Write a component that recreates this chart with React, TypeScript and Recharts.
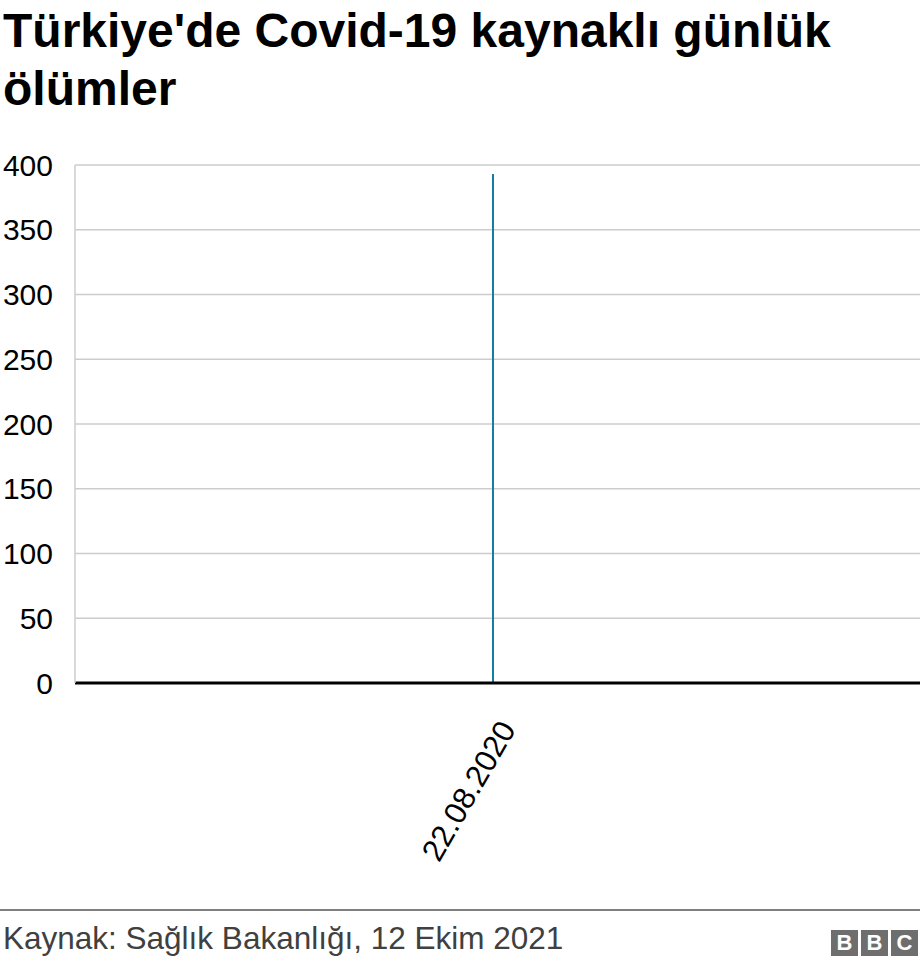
import React from 'react';
import { BarChart, Bar, XAxis, YAxis, CartesianGrid } from 'recharts';

const dates = ['22.08.2020'];
const deaths = [393];
const yTicks = [0, 50, 100, 150, 200, 250, 300, 350, 400];

const data = dates.map((d, i) => ({ date: d, value: deaths[i] }));

const FONT = '"Liberation Sans", Arial, Helvetica, sans-serif';

const DateTick = (props: any) => {
  const { x, y, payload } = props;
  return (
    <g transform={`translate(${x + 24},${y + 38})`}>
      <text
        transform="rotate(-60)"
        textAnchor="end"
        fontSize={31}
        fontFamily={FONT}
        fill="#000"
      >
        {payload.value}
      </text>
    </g>
  );
};

const BbcLogo = () => (
  <div style={{ position: 'absolute', right: 2, top: 930, display: 'flex', gap: 3 }}>
    {['B', 'B', 'C'].map((l, i) => (
      <div
        key={i}
        style={{
          width: 27,
          height: 26,
          background: '#6e6e6e',
          color: '#fff',
          fontFamily: FONT,
          fontWeight: 700,
          fontSize: 22,
          lineHeight: '26px',
          textAlign: 'center',
        }}
      >
        {l}
      </div>
    ))}
  </div>
);

export default function App() {
  return (
    <div style={{ position: 'absolute', left: 0, top: 0, width: 920, height: 966, background: '#fff', fontFamily: FONT }}>
      <div
        style={{
          position: 'absolute',
          left: 3,
          top: 2,
          width: 900,
          fontSize: 48,
          fontWeight: 700,
          lineHeight: '58px',
          color: '#000',
        }}
      >
        Türkiye'de Covid-19 kaynaklı günlük ölümler
      </div>
      <div style={{ position: 'absolute', left: 0, top: 140 }}>
        <BarChart width={920} height={760} data={data} margin={{ top: 25, right: 0, left: 0, bottom: 0 }}>
          <CartesianGrid vertical={false} stroke="#cccccc" strokeWidth={1.5} />
          <XAxis
            dataKey="date"
            height={217}
            padding={{ left: 0, right: 10 }}
            axisLine={{ stroke: '#000', strokeWidth: 3 }}
            tickLine={false}
            tick={<DateTick />}
            interval={0}
          />
          <YAxis
            width={75}
            domain={[0, 400]}
            ticks={yTicks}
            axisLine={{ stroke: '#cccccc', strokeWidth: 1.5 }}
            tickLine={false}
            tick={{ fontSize: 30, fill: '#000', fontFamily: FONT, dx: -14 }}
          />
          <Bar dataKey="value" fill="#1380A1" barSize={2} isAnimationActive={false} />
        </BarChart>
      </div>
      <div style={{ position: 'absolute', left: 0, top: 909, width: 920, height: 2, background: '#808080' }} />
      <div style={{ position: 'absolute', left: 3, top: 920, fontSize: 31.5, color: '#404040' }}>
        Kaynak: Sağlık Bakanlığı, 12 Ekim 2021
      </div>
      <BbcLogo />
    </div>
  );
}
